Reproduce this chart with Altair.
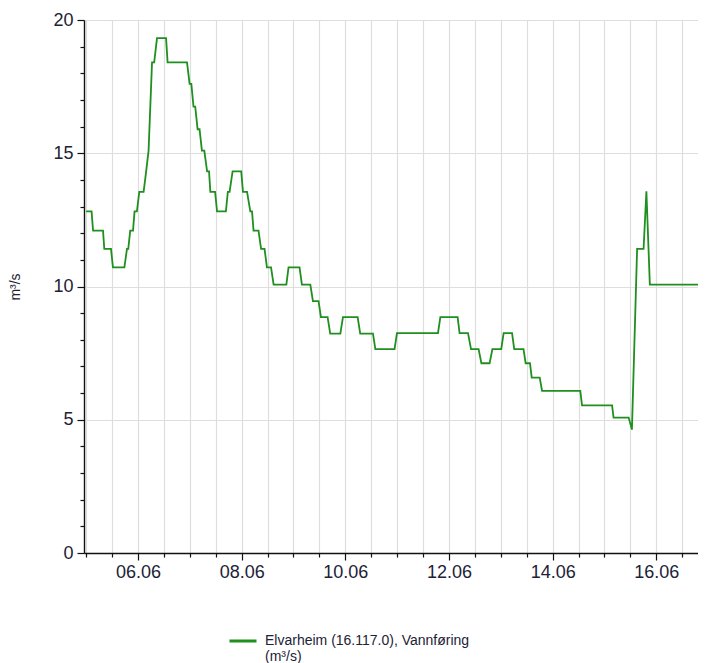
import datetime as dt
import altair as alt
import pandas as pd

# ---- data ----
series_name = "Elvarheim (16.117.0), Vannføring\n(m³/s)"
# hours after 05.06 00:00
hours = [0, 2.5, 3.2, 7.8, 8.4, 11.5, 12.4, 17.7, 18.9, 19.5, 20.4, 21.7, 22.4, 23.5,
         24.6, 26.6, 27.6, 28.9, 30.5, 31.5, 32.8, 37.0, 37.7, 46.7, 47.9, 48.7,
         49.7, 50.5, 51.6, 52.5, 53.6, 54.7, 56.0, 56.9, 57.5, 59.7, 60.6, 64.7,
         65.6, 66.4, 67.8, 71.8, 72.6, 74.5, 76.0, 76.8, 77.5, 79.8, 81.0, 82.6,
         83.7, 85.6, 86.8, 92.7, 93.7, 98.8, 99.9, 103.8, 105.0, 107.6, 108.7, 111.8,
         113.0, 117.7, 118.9, 125.7, 126.9, 132.8, 133.9, 142.8, 143.9, 162.9,
         164.0, 172.0, 172.9, 176.8, 178.2, 181.7, 183.0, 186.8, 188.1, 192.2,
         193.3, 197.2, 198.2, 202.5, 203.5, 205.5, 206.3, 210.0, 211.1, 228.8,
         229.6, 243.5, 244.2, 251.2, 252.7, 255.1, 258.1, 259.4, 261.0, 287.0]
flow = [12.82, 12.82, 12.1, 12.1, 11.41, 11.41, 10.72, 10.72, 11.41, 11.41, 12.1, 12.1, 12.82, 12.82,
        13.55, 13.55, 14.2, 15.1, 18.41, 18.41, 19.32, 19.32, 18.41, 18.41, 17.6, 17.6,
        16.75, 16.75, 15.9, 15.9, 15.1, 15.1, 14.32, 14.32, 13.55, 13.55, 12.82, 12.82,
        13.55, 13.55, 14.32, 14.32, 13.55, 13.55, 12.82, 12.82, 12.1, 12.1, 11.41, 11.41,
        10.72, 10.72, 10.07, 10.07, 10.72, 10.72, 10.07, 10.07, 9.45, 9.45, 8.85, 8.85,
        8.23, 8.23, 8.85, 8.85, 8.23, 8.23, 7.65, 7.65, 8.25, 8.25,
        8.85, 8.85, 8.25, 8.25, 7.65, 7.65, 7.12, 7.12, 7.65, 7.65,
        8.25, 8.25, 7.65, 7.65, 7.12, 7.12, 6.58, 6.58, 6.08, 6.08,
        5.54, 5.54, 5.08, 5.08, 4.63, 11.41, 11.41, 13.57, 10.07, 10.07]
y_ticks = list(range(0, 21))

HOUR = 3600 * 1000
t0 = dt.datetime(2023, 6, 5, tzinfo=dt.timezone.utc).timestamp() * 1000
x_ticks = [t0 + k * 12 * HOUR for k in range(0, 24)]

df = pd.DataFrame({
    "t": [t0 + h * HOUR for h in hours],
    "v": flow,
    "s": [series_name] * len(hours),
})

FONT = "Liberation Sans"
TXT = "#1c2236"
major_x = "utchours(datum.value) == 0 && utcdate(datum.value) % 2 == 0"

chart = alt.Chart(df).mark_line(color="#2e9b2e", strokeWidth=1.8, clip=True).encode(
    x=alt.X("t:T",
            scale=alt.Scale(type="utc", domain=[t0 - HOUR, t0 + 287 * HOUR]),
            axis=alt.Axis(values=x_ticks, title=None,
                          labelExpr=f"{major_x} ? utcFormat(datum.value, '%d.%m') : ''",
                          tickSize={"condition": {"test": major_x, "value": 7}, "value": 4},
                          labelPadding=3, labelFontSize=18, labelFont=FONT, labelColor=TXT,
                          labelOverlap=False, labelFlush=False,
                          gridColor="#dedede", gridWidth=1.2,
                          domainColor="#111111", tickColor="#111111", tickWidth=1.2,
                          domainWidth=1.4)),
    y=alt.Y("v:Q",
            scale=alt.Scale(domain=[0, 20], nice=False, zero=True),
            axis=alt.Axis(values=y_ticks, title="m³/s", titleFont=FONT, titleFontSize=14,
                          titleFontWeight="normal", titleColor=TXT, titleX=-62,
                          labelExpr="datum.value % 5 == 0 ? datum.value : ''",
                          gridOpacity={"condition": {"test": "datum.value % 5 == 0", "value": 1}, "value": 0},
                          tickSize={"condition": {"test": "datum.value % 5 == 0", "value": 7}, "value": 4},
                          labelPadding=4, labelFontSize=18, labelFont=FONT, labelColor=TXT,
                          gridColor="#dedede", gridWidth=1.2,
                          domainColor="#111111", tickColor="#111111", tickWidth=1.2,
                          domainWidth=1.4)),
    color=alt.Color("s:N", scale=alt.Scale(range=["#1f8f1f"]),
                    legend=alt.Legend(title=None, orient="none", legendX=144, legendY=606,
                                      symbolType="stroke", symbolSize=729, symbolStrokeWidth=3,
                                      labelExpr="split(datum.label, '\\n')",
                                      labelFont=FONT, labelFontSize=14, labelColor=TXT,
                                      labelOffset=7, labelLimit=400, padding=0)),
).properties(
    width=622, height=533,
    autosize=alt.AutoSizeParams(type="none"),
    padding={"left": 76, "top": 12, "right": -8, "bottom": 110},
).configure_view(strokeWidth=0)

chart.save("out.html", embed_options={"renderer": "svg", "actions": False})
